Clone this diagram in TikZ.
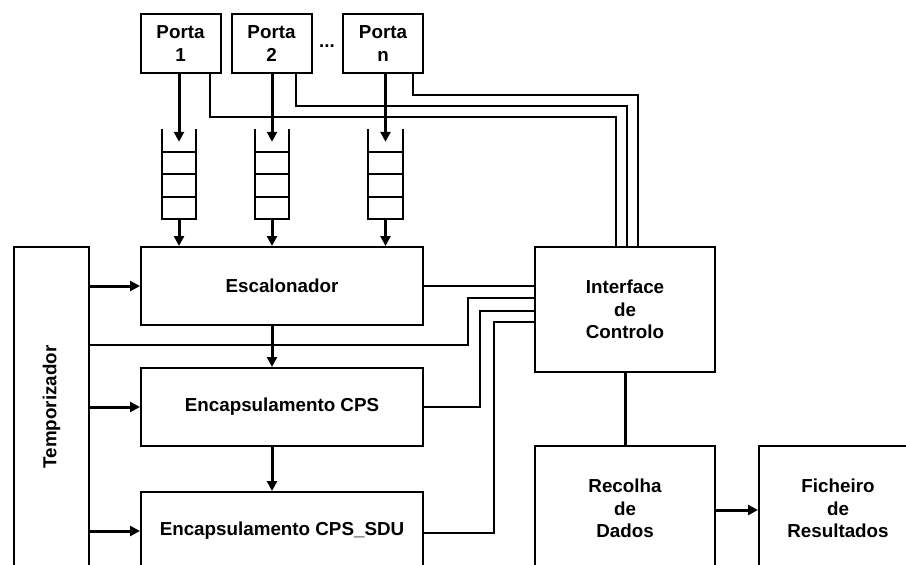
\documentclass[tikz,border=0pt]{standalone}
\usepackage{fontspec}
\setmainfont{Liberation Sans}
\usetikzlibrary{arrows.meta}

\begin{document}
\begin{tikzpicture}
  [x=1pt, y=-1pt,
   block/.style={draw, line width=2pt, align=center, inner sep=0pt,
     font=\bfseries\fontsize{18.8}{22.5}\selectfont},
   port/.style={block, minimum width=80pt, minimum height=59pt},
   unit/.style={block, minimum width=282pt, minimum height=78pt},
   qbox/.style={minimum width=34pt, minimum height=77pt, inner sep=0pt},
   wire/.style={line width=2pt},
   arr/.style={line width=3pt, -{Triangle[length=10pt,width=10pt]}}]
  \clip (0,0) rectangle (906,565);

  \node[port] (p1) at (180.5,43.5) {Porta\\1};
  \node[port] (p2) at (271.5,43.5) {Porta\\2};
  \node[port] (pn) at (383,43.5) {Porta\\n};
  \node[font=\bfseries\fontsize{18.8}{22.5}\selectfont] (dots) at (327,46) {...};

  \node[unit] (esc) at (282,286) {Escalonador};
  \node[unit] (cps) at (282,407) {Encapsulamento CPS};
  \node[unit] (sdu) at (282,531) {Encapsulamento CPS\_SDU};
  \node[block, minimum width=75pt, minimum height=320pt,
    label={[rotate=90, font=\bfseries\fontsize{18.8}{22.5}\selectfont]center:Temporizador}]
    (tmp) at (51.5,407) {};
  \node[block, minimum width=180pt, minimum height=125pt] (ifc) at (625,309.5) {Interface\\de\\Controlo};
  \node[block, minimum width=180pt, minimum height=125pt] (rec) at (625,508.5) {Recolha\\de\\Dados};
  \node[block, minimum width=158pt, minimum height=125pt] (fich) at (838,508.5) {Ficheiro\\de\\Resultados};

  % filas das portas
  \foreach \n/\x in {1/179, 2/272, n/385.5} {
    \node[qbox] (q\n) at (\x,180.5) {};
    \draw[wire] ([yshift=13pt]q\n.north west) -- (q\n.south west)
      -- (q\n.south east) -- ([yshift=13pt]q\n.north east);
    \foreach \d in {10,32,55}
      \draw[wire] ([yshift=-\d pt]q\n.north west) -- ([yshift=-\d pt]q\n.north east);
    \draw[arr] (q\n.north |- p\n.south) -- (q\n.north);
    \draw[arr] (q\n.south) -- (q\n.south |- esc.north);
  }

  % controlo das portas
  \draw[wire] ([xshift=-12pt]p1.south east) -- ++(0,43) -| ([xshift=-9pt]ifc.north);
  \draw[wire] ([xshift=-17pt]p2.south east) -- ++(0,32) -| ([xshift=2pt]ifc.north);
  \draw[wire] ([xshift=-11pt]pn.south east) -- ++(0,21) -| ([xshift=13pt]ifc.north);

  \draw[arr] (tmp.east |- esc.west) -- (esc.west);
  \draw[arr] (tmp.east |- cps.west) -- (cps.west);
  \draw[arr] (tmp.east |- sdu.west) -- (sdu.west);
  \draw[arr] ([xshift=-10pt]esc.south) -- ([xshift=-10pt]cps.north);
  \draw[arr] ([xshift=-10pt]cps.south) -- ([xshift=-10pt]sdu.north);

  \draw[wire] (esc.east) -- (ifc.west |- esc.east);
  \draw[wire] (tmp.east |- 0,345) -| (468,298) -- (ifc.west |- 0,298);
  \draw[wire] (cps.east) -| (480,311) -- (ifc.west |- 0,311);
  \draw[wire] (sdu.east |- 0,533) -| (494,322) -- (ifc.west |- 0,322);

  \draw[line width=3pt] (ifc.south) -- (rec.north);
  \draw[arr] (rec.east |- 0,510) -- (fich.west |- 0,510);
\end{tikzpicture}
\end{document}
